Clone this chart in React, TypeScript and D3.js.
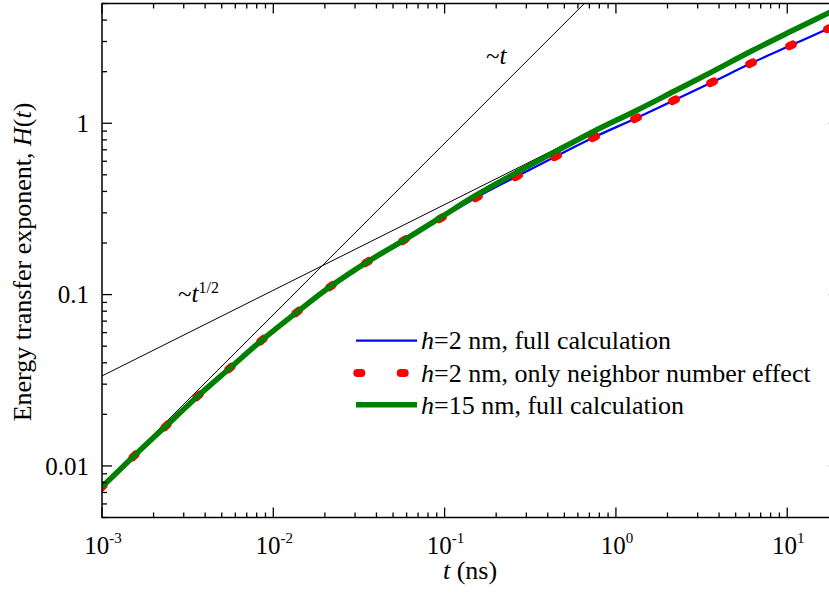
import React from 'react';
import * as d3 from 'd3';

// ---- data ----
const tValues = [0.001, 0.001538, 0.002363, 0.003634, 0.005587, 0.00859, 0.01375, 0.02172, 0.03524, 0.05794, 0.09528, 0.1545, 0.2647, 0.447, 0.745, 1.31, 2.184, 3.639, 6.147, 10.52, 17.54, 20];
const blueH = [0.00754, 0.01143, 0.01711, 0.0256, 0.03727, 0.05428, 0.07906, 0.1121, 0.1547, 0.2078, 0.2793, 0.3703, 0.4909, 0.6421, 0.8287, 1.07, 1.362, 1.734, 2.238, 2.85, 3.58, 3.8];
const redH = [0.00754, 0.01143, 0.01711, 0.0256, 0.03727, 0.05428, 0.07906, 0.1121, 0.1547, 0.2078, 0.2793, 0.3703, 0.4909, 0.6421, 0.8287, 1.07, 1.362, 1.734, 2.238, 2.85, 3.58, 3.8];
const greenH = [0.00754, 0.01143, 0.01711, 0.0256, 0.03727, 0.05428, 0.07906, 0.1121, 0.1547, 0.2078, 0.2831, 0.3829, 0.5179, 0.6864, 0.8983, 1.183, 1.536, 1.996, 2.63, 3.44, 4.421, 4.715];

const linT = [0.001, 0.654];
const linH = [0.00764, 5.0];
const sqrtT = [0.001, 0.5];
const sqrtH = [0.0335, 0.75];

const xMajor = [0.001, 0.01, 0.1, 1, 10];
const xExp = ['-3', '-2', '-1', '0', '1'];
const yMajor = [0.01, 0.1, 1];
const yLabels = ['0.01', '0.1', '1'];

const legendItems = [
  { rest: '=2 nm, full calculation', color: '#0000ff', kind: 'blue' },
  { rest: '=2 nm, only neighbor number effect', color: '#ff0000', kind: 'red' },
  { rest: '=15 nm, full calculation', color: '#008000', kind: 'green' },
];

const FONT = '"Liberation Serif", "Times New Roman", serif';

export default function App() {
  const L = 102, T = 3.5, B = 517.5, R = 838.8;
  const x = d3.scaleLog().domain([0.001, 20]).range([L, R]);
  const y = d3.scaleLog().domain([0.005, 5]).range([B, T]);

  const mk = (ts: number[], hs: number[]) =>
    d3.line<number>().x((_, i) => x(ts[i])).y((_, i) => y(hs[i])).curve(d3.curveMonotoneX)(hs) || '';

  const isMajor = (v: number) => Math.abs(Math.log10(v) - Math.round(Math.log10(v))) < 1e-6;
  const xTicks = x.ticks();
  const yTicks = y.ticks();

  // red dots: short dashes centered on each data point, oriented along the curve
  const redPts = tValues.map((t, i) => [x(t), y(redH[i])]);
  const dots = redPts.map((p, i) => {
    const a = redPts[Math.max(0, i - 1)];
    const b = redPts[Math.min(redPts.length - 1, i + 1)];
    const dx = b[0] - a[0], dy = b[1] - a[1];
    const len = Math.hypot(dx, dy) || 1;
    const ux = (dx / len) * 2, uy = (dy / len) * 2;
    return { x1: p[0] - ux, y1: p[1] - uy, x2: p[0] + ux, y2: p[1] + uy };
  });

  const axisColor = '#000';
  const legX1 = 356, legX2 = 417, legTextX = 421;
  const legBase = [349.3, 381.7, 413.5];

  return (
    <div style={{ position: 'absolute', left: 0, top: 0 }}>
      <svg width={829} height={597} style={{ display: 'block', background: '#fff' }} fontFamily={FONT}>
        <defs>
          <clipPath id="plotclip">
            <rect x={L} y={T} width={R - L} height={B - T} />
          </clipPath>
        </defs>

        <g clipPath="url(#plotclip)">
          <path d={mk(linT, linH)} fill="none" stroke="#000" strokeWidth={1} />
          <path d={mk(sqrtT, sqrtH)} fill="none" stroke="#000" strokeWidth={1} />
          <path d={mk(tValues, blueH)} fill="none" stroke="#0000ff" strokeWidth={2.2} />
          {dots.map((d, i) => (
            <line key={i} x1={d.x1} y1={d.y1} x2={d.x2} y2={d.y2} stroke="#ff0000" strokeWidth={8} strokeLinecap="round" />
          ))}
          <path d={mk(tValues, greenH)} fill="none" stroke="#008000" strokeWidth={5.5} />
        </g>

        {/* frame */}
        <rect x={L} y={T} width={R - L} height={B - T} fill="none" stroke={axisColor} strokeWidth={1.5} />

        {/* x ticks */}
        {xTicks.map((v, i) => {
          const len = isMajor(v) ? 10 : 5;
          const px = x(v);
          return (
            <g key={'xt' + i}>
              <line x1={px} x2={px} y1={B} y2={B - len} stroke={axisColor} strokeWidth={1.3} />
              <line x1={px} x2={px} y1={T} y2={T + len} stroke={axisColor} strokeWidth={1.3} />
            </g>
          );
        })}
        {/* y ticks */}
        {yTicks.map((v, i) => {
          const len = isMajor(v) ? 10 : 5;
          const py = y(v);
          return (
            <g key={'yt' + i}>
              <line x1={L} x2={L + len} y1={py} y2={py} stroke={axisColor} strokeWidth={1.3} />
              <line x1={R} x2={R - len} y1={py} y2={py} stroke={axisColor} strokeWidth={1.3} />
            </g>
          );
        })}

        {/* x tick labels */}
        {xMajor.map((v, i) => (
          <text key={'xl' + i} x={x(v) + 1} y={553.5} textAnchor="middle" fontSize={25} fill="#000">
            <tspan>10</tspan>
            <tspan dy={-11} fontSize={15}>{xExp[i]}</tspan>
          </text>
        ))}
        {/* y tick labels */}
        {yMajor.map((v, i) => (
          <text key={'yl' + i} x={89} y={y(v) + 8.7} textAnchor="end" fontSize={25} fill="#000">
            {yLabels[i]}
          </text>
        ))}

        {/* axis titles */}
        <text x={470} y={579} textAnchor="middle" fontSize={26} fill="#000">
          <tspan fontStyle="italic">t</tspan>
          <tspan> (ns)</tspan>
        </text>
        <text transform="translate(31,262) rotate(-90)" textAnchor="middle" fontSize={26} fill="#000">
          <tspan>Energy transfer exponent, </tspan>
          <tspan fontStyle="italic">H</tspan>
          <tspan>(</tspan>
          <tspan fontStyle="italic">t</tspan>
          <tspan>)</tspan>
        </text>

        {/* annotations */}
        <text x={486} y={63.5} fontSize={25} fill="#000">
          <tspan>~</tspan>
          <tspan fontStyle="italic">t</tspan>
        </text>
        <text x={178} y={301.5} fontSize={25} fill="#000">
          <tspan>~</tspan>
          <tspan fontStyle="italic">t</tspan>
          <tspan dy={-9} fontSize={16}>1/2</tspan>
        </text>

        {/* legend */}
        {legendItems.map((it, i) => {
          const ly = legBase[i] - 8.7;
          return (
            <g key={'lg' + i}>
              {it.kind === 'blue' && (
                <line x1={legX1} x2={legX2} y1={ly} y2={ly} stroke={it.color} strokeWidth={2.2} />
              )}
              {it.kind === 'red' && (
                <g>
                  <line x1={357.3} x2={361.3} y1={ly} y2={ly} stroke={it.color} strokeWidth={8} strokeLinecap="round" />
                  <line x1={400.7} x2={404.7} y1={ly} y2={ly} stroke={it.color} strokeWidth={8} strokeLinecap="round" />
                </g>
              )}
              {it.kind === 'green' && (
                <line x1={legX1} x2={legX2} y1={ly} y2={ly} stroke={it.color} strokeWidth={5.5} />
              )}
              <text x={legTextX} y={legBase[i]} fontSize={26} fill="#000">
                <tspan fontStyle="italic">h</tspan>
                <tspan>{it.rest}</tspan>
              </text>
            </g>
          );
        })}
      </svg>
    </div>
  );
}
